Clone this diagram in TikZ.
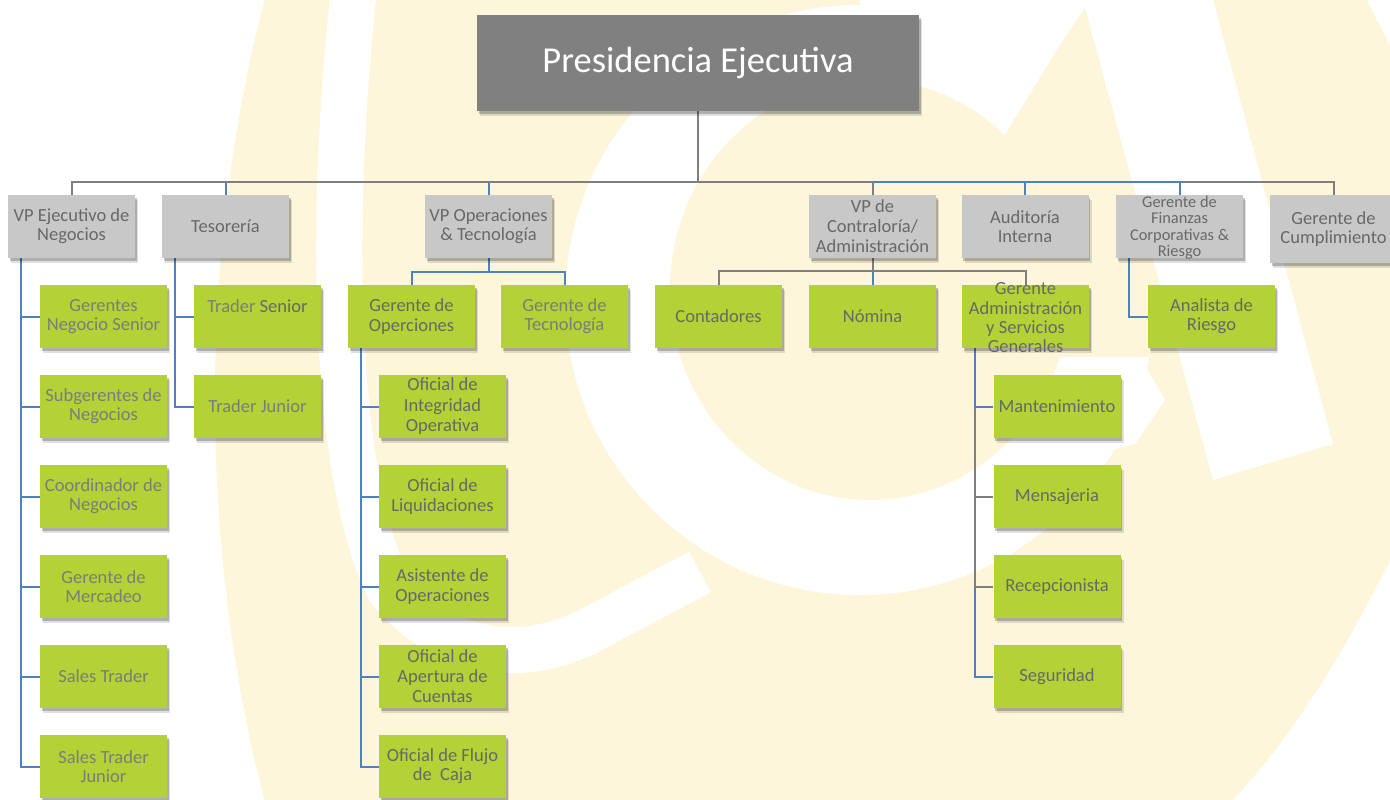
\documentclass[tikz,border=0pt]{standalone}
\usepackage{fontspec}
\setmainfont{Carlito}
\usetikzlibrary{shadows}
\definecolor{wm}{HTML}{FDF6DA}
\definecolor{boxgray}{HTML}{C8C8C8}
\definecolor{boxgreen}{HTML}{B2D235}
\definecolor{topgray}{HTML}{808080}
\definecolor{linegray}{HTML}{7F7F7F}
\definecolor{lineblue}{HTML}{4F81BD}
\definecolor{txtd}{HTML}{686868}
\definecolor{txtl}{HTML}{7C7C7C}
\pgfdeclarelayer{bg}
\pgfdeclarelayer{edges}
\pgfsetlayers{bg,edges,main}
\begin{document}
\begin{tikzpicture}[x=1pt,y=-1pt,
  sh/.style={drop shadow={shadow xshift=3pt,shadow yshift=-5pt,opacity=.12,fill=black},
             drop shadow={shadow xshift=1.5pt,shadow yshift=-3pt,opacity=.22,fill=black}},
  bx/.style={minimum width=127pt,minimum height=63pt,inner sep=0pt,align=center,text=txtd,
             font=\fontsize{18.5}{19.3}\selectfont,sh},
  lvtwo/.style={bx,fill=boxgray},
  lvthree/.style={bx,fill=boxgreen},
  light/.style={text=txtl},
  txt/.style={inner sep=0pt,align=center,text=txtd},
  gl/.style={draw=linegray,line width=2pt},
  bl/.style={draw=lineblue,line width=2pt},
]
\useasboundingbox (0,0) rectangle (1390,800);
% ---------- watermark ----------
\begin{pgfonlayer}{bg}
\fill[white] (0,0) rectangle (1390,800);
\begin{scope}
\clip (0,0) rectangle (1390,800);
\fill[wm] (810,400) ellipse [x radius=595, y radius=1000];
\fill[wm] (1213,0) -- (1367,0) -- (1390,45) -- (1390,600) -- (1333,444) -- cycle;
\fill[white] (1390,561) .. controls (1330,680) and (1280,750) .. (1233,800) -- (1390,800) -- cycle;
\draw[white,line width=46pt,line cap=butt] (355,-20) .. controls (330,200) and (330,470) .. (390,590)
      .. controls (450,660) and (530,665) .. (600,625) -- (700,572);
\fill[white] (860,300) circle [radius=295];
\fill[white] (860,0) -- (1090,0) -- (1000,143) -- (860,100) -- cycle;
\fill[wm] (870,290) ellipse [x radius=200, y radius=210];
\fill[wm] (1090,0) -- (1060,45) -- (1000,143) -- (1000,357) -- (1180,357) -- cycle;
\fill[white] (1066,357) -- (1140,357) -- (1165,400) -- (1135,444) -- (1000,480) -- (1000,455) -- cycle;
\fill[white] (1083,0) -- (1213,0) -- (1333,444) -- (1213,480) -- cycle;
\fill[white] (1367,0) -- (1390,0) -- (1390,45) -- cycle;
\end{scope}
\end{pgfonlayer}
% ---------- top ----------
\node[fill=topgray,minimum width=442pt,minimum height=96pt,inner sep=0pt,text=white,
      font=\fontsize{36.5}{40}\selectfont,sh] (top) at (698,63) {Presidencia Ejecutiva};
% ---------- level 2 ----------
\node[lvtwo] (ejec) at (71.5,226.5) {VP Ejecutivo de\\Negocios};
\node[lvtwo] (teso) at (225.5,226.5) {Tesorería};
\node[lvtwo] (vpops) at (488.5,226.5) {VP Operaciones\\\& Tecnología};
\node[lvtwo,font=\fontsize{18.5}{20}\selectfont] (vpcon) at (872.5,226.5) {VP de\\Contraloría/\\Administración};
\node[lvtwo] (audit) at (1025,226.5) {Auditoría\\Interna};
\node[lvtwo] (finan) at (1179.5,226.5) {};
\node[txt,font=\fontsize{16.4}{16.5}\selectfont] (finant) at (1179.5,227.5) {Gerente de\\Finanzas\\Corporativas \&\\Riesgo};
\node[lvtwo,minimum height=68pt] (cumpl) at (1333.5,229) {Gerente de\\Cumplimiento};
% ---------- VP Ejecutivo ----------
\node[lvthree,light] (e1) at (103.5,316.5) {Gerentes\\Negocio Senior};
\node[lvthree,light] (e2) at (103.5,406.5) {Subgerentes de\\Negocios};
\node[lvthree,light] (e3) at (103.5,496.5) {Coordinador de\\Negocios};
\node[lvthree,light] (e4) at (103.5,586.5) {Gerente de\\Mercadeo};
\node[lvthree,light] (e5) at (103.5,676.5) {Sales Trader};
\node[lvthree,light] (e6) at (103.5,766.5) {Sales Trader\\Junior};
% ---------- Tesoreria ----------
\node[lvthree] (t1) at (257.5,316.5) {\raisebox{4pt}[0pt][0pt]{\textcolor{txtl}{Trader} Senior}};
\node[lvthree,light] (t2) at (257.5,406.5) {Trader Junior};
% ---------- VP Operaciones ----------
\node[lvthree] (gop) at (411.5,316.5) {Gerente de\\Operciones};
\node[lvthree,light] (gtec) at (564.5,316.5) {Gerente de\\Tecnología};
\node[lvthree,font=\fontsize{18.5}{20.5}\selectfont] (o1) at (442.5,406.5) {Oficial de\\Integridad\\Operativa};
\node[lvthree] (o2) at (442.5,496.5) {Oficial de\\Liquidaciones};
\node[lvthree] (o3) at (442.5,586.5) {Asistente de\\Operaciones};
\node[lvthree,font=\fontsize{18.5}{20}\selectfont] (o4) at (442.5,676.5) {Oficial de\\Apertura de\\Cuentas};
\node[lvthree] (o5) at (442.5,766.5) {Oficial de Flujo\\de\ \ Caja};
% ---------- VP Contraloria ----------
\node[lvthree] (cont) at (718.5,316.5) {Contadores};
\node[lvthree] (nom) at (872.5,316.5) {Nómina};
\node[lvthree] (gadm) at (1025.5,316.5) {};
\node[txt,font=\fontsize{18.5}{19.3}\selectfont] (gadmt) at (1025.5,318) {Gerente\\Administración\\y Servicios\\Generales};
\node[lvthree] (a1) at (1057,406.5) {Mantenimiento};
\node[lvthree] (a2) at (1057,496.5) {Mensajeria};
\node[lvthree] (a3) at (1057,586.5) {Recepcionista};
\node[lvthree] (a4) at (1057,676.5) {Seguridad};
% ---------- Finanzas ----------
\node[lvthree] (anal) at (1211.5,316.5) {Analista de\\Riesgo};
% ---------- connectors ----------
\begin{pgfonlayer}{edges}
\coordinate (bus) at (698,182);
\draw[gl] (top.south) -- (bus) -| (cumpl.north);
\draw[bl] (bus) -| (audit.north);
\draw[bl] (bus) -| (finan.north);
\draw[gl] (top.south) -- (bus) -| (vpcon.north);
\draw[bl] (bus) -| (teso.north);
\draw[bl] (bus) -| (vpops.north);
\draw[gl] (top.south) -- (bus) -| (ejec.north);
\foreach \n in {e1,e2,e3,e4,e5,e6}{\draw[bl] (ejec.south west) ++(13,0) |- (\n.west);}
\foreach \n in {t1,t2}{\draw[bl] (teso.south west) ++(13,0) |- (\n.west);}
\coordinate (opsbus) at (488.5,272);
\draw[bl] (vpops.south) -- (opsbus) -| (gop.north);
\draw[bl] (opsbus) -| (gtec.north);
\foreach \n in {o1,o2,o3,o4,o5}{\draw[bl] (gop.south west) ++(13,0) |- (\n.west);}
\coordinate (conbus) at (872.5,271);
\draw[bl] (vpcon.south) -- (nom.north);
\draw[gl] (vpcon.south) -- (conbus) -| (cont.north);
\draw[gl] (vpcon.south) -- (conbus) -| (gadm.north);
\draw[bl] (gadm.south west) ++(13,0) |- (a4.west);
\draw[gl] (gadm.south west) ++(13,0) |- (a3.west);
\draw[gl] (gadm.south west) ++(13,0) |- (a2.west);
\draw[bl] (gadm.south west) ++(13,0) |- (a1.west);
\draw[bl] (finan.south west) ++(13,0) |- (anal.west);
\end{pgfonlayer}
\end{tikzpicture}
\end{document}
